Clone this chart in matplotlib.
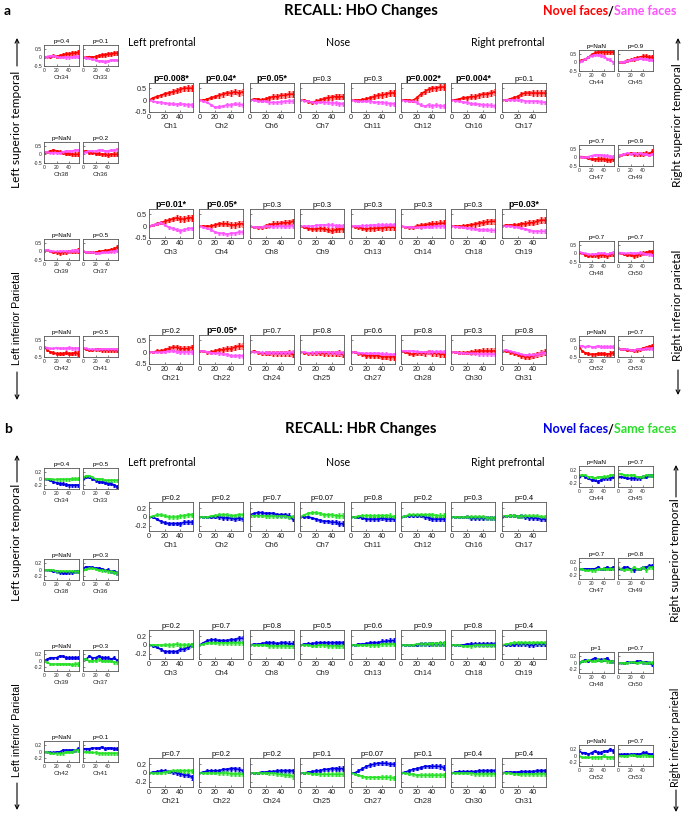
import matplotlib.pyplot as plt

plt.rcParams['axes.unicode_minus'] = False
plt.rcParams['font.family'] = ['Liberation Sans', 'DejaVu Sans']

W, H = 685, 815

# time axis (s)
t = [0, 5, 10, 15, 20, 25, 30, 35, 40, 45, 50, 55]

# channel names (same layout in both panels)
center_ch = [['Ch1', 'Ch2', 'Ch6', 'Ch7', 'Ch11', 'Ch12', 'Ch16', 'Ch17'],
             ['Ch3', 'Ch4', 'Ch8', 'Ch9', 'Ch13', 'Ch14', 'Ch18', 'Ch19'],
             ['Ch21', 'Ch22', 'Ch24', 'Ch25', 'Ch27', 'Ch28', 'Ch30', 'Ch31']]
left_ch = [['Ch34', 'Ch33'], ['Ch38', 'Ch36'], ['Ch39', 'Ch37'], ['Ch42', 'Ch41']]
right_ch = [['Ch44', 'Ch45'], ['Ch47', 'Ch49'], ['Ch48', 'Ch50'], ['Ch52', 'Ch53']]

# ---------------- HbO ----------------
hbo_center_p = [['p=0.008*', 'p=0.04*', 'p=0.05*', 'p=0.3', 'p=0.3', 'p=0.002*', 'p=0.004*', 'p=0.1'],
                ['p=0.01*', 'p=0.05*', 'p=0.3', 'p=0.3', 'p=0.3', 'p=0.3', 'p=0.3', 'p=0.03*'],
                ['p=0.2', 'p=0.05*', 'p=0.7', 'p=0.8', 'p=0.6', 'p=0.8', 'p=0.3', 'p=0.8']]
hbo_left_p = [['p=0.4', 'p=0.1'], ['p=NaN', 'p=0.2'], ['p=NaN', 'p=0.5'], ['p=NaN', 'p=0.5']]
hbo_right_p = [['p=NaN', 'p=0.9'], ['p=0.7', 'p=0.9'], ['p=0.7', 'p=0.7'], ['p=NaN', 'p=0.7']]

hbo_center_novel = [
    [[0, 0.1, 0.15, 0.2, 0.27, 0.3, 0.35, 0.4, 0.45, 0.5, 0.5, 0.5],
     [0, 0.0, 0.05, 0.1, 0.15, 0.2, 0.25, 0.3, 0.3, 0.35, 0.3, 0.35],
     [0, 0.05, 0.05, 0.0, 0.05, 0.1, 0.15, 0.15, 0.2, 0.2, 0.25, 0.25],
     [0, 0.0, -0.05, -0.1, -0.05, 0.0, 0.05, 0.1, 0.12, 0.15, 0.15, 0.15],
     [0, 0.0, 0.0, 0.02, 0.05, 0.1, 0.15, 0.2, 0.22, 0.25, 0.3, 0.3],
     [0, 0.02, 0.0, -0.02, 0.1, 0.25, 0.35, 0.45, 0.5, 0.5, 0.55, 0.55],
     [0, 0.02, 0.05, 0.1, 0.1, 0.15, 0.15, 0.2, 0.25, 0.25, 0.3, 0.35],
     [0, 0.0, 0.05, 0.1, 0.15, 0.25, 0.3, 0.3, 0.3, 0.3, 0.3, 0.3]],
    [[0, 0.05, 0.1, 0.15, 0.2, 0.25, 0.3, 0.35, 0.3, 0.3, 0.35, 0.35],
     [0, 0.0, 0.0, 0.0, 0.05, 0.1, 0.1, 0.1, 0.05, 0.05, 0.1, 0.1],
     [0, -0.05, -0.05, -0.05, 0.0, 0.05, 0.1, 0.1, 0.12, 0.15, 0.15, 0.2],
     [0, -0.05, -0.1, -0.12, -0.12, -0.1, -0.12, -0.15, -0.2, -0.15, -0.12, -0.12],
     [0, -0.02, -0.05, -0.1, -0.12, -0.1, -0.1, -0.08, -0.08, -0.05, -0.05, -0.05],
     [0, -0.03, -0.05, -0.05, 0.0, 0.03, 0.05, 0.08, 0.1, 0.1, 0.12, 0.12],
     [0, 0.0, 0.0, 0.0, 0.03, 0.05, 0.08, 0.12, 0.15, 0.18, 0.2, 0.2],
     [0, 0.05, 0.05, 0.05, 0.05, 0.1, 0.1, 0.15, 0.15, 0.2, 0.25, 0.25]],
    [[0, 0.0, 0.05, 0.05, 0.1, 0.15, 0.2, 0.2, 0.15, 0.15, 0.15, 0.2],
     [0.05, 0.05, 0.0, 0.0, 0.05, 0.1, 0.1, 0.15, 0.15, 0.2, 0.25, 0.25],
     [0, 0.05, 0.0, -0.05, -0.05, -0.05, -0.05, -0.05, -0.05, -0.05, -0.05, -0.1],
     [0, -0.02, -0.05, -0.05, -0.05, -0.03, -0.05, -0.05, -0.05, -0.05, -0.05, -0.1],
     [0, 0.0, -0.05, -0.1, -0.15, -0.15, -0.15, -0.15, -0.2, -0.2, -0.2, -0.2],
     [0.05, 0.0, -0.05, -0.1, -0.05, -0.05, -0.05, 0.0, -0.05, -0.05, -0.08, -0.1],
     [0, 0.0, -0.02, -0.02, -0.02, 0.0, 0.02, 0.05, 0.05, 0.05, 0.05, 0.05],
     [0.05, 0.05, 0.0, -0.05, -0.1, -0.15, -0.2, -0.2, -0.15, -0.1, -0.05, 0.0]]]
hbo_center_same = [
    [[0, -0.05, -0.08, -0.1, -0.12, -0.15, -0.15, -0.18, -0.15, -0.18, -0.2, -0.2],
     [0, -0.05, -0.1, -0.2, -0.3, -0.28, -0.25, -0.2, -0.2, -0.15, -0.18, -0.2],
     [0, 0.0, -0.05, -0.05, -0.05, -0.1, -0.1, -0.1, -0.08, -0.05, -0.05, -0.05],
     [0, -0.02, -0.05, -0.08, -0.1, -0.08, -0.1, -0.1, -0.12, -0.12, -0.15, -0.15],
     [0, -0.02, -0.05, -0.05, -0.05, -0.05, -0.08, -0.1, -0.1, -0.12, -0.15, -0.15],
     [0, -0.02, -0.05, -0.05, -0.1, -0.2, -0.25, -0.2, -0.25, -0.2, -0.25, -0.25],
     [0, -0.02, -0.05, -0.08, -0.1, -0.15, -0.15, -0.18, -0.2, -0.2, -0.22, -0.25],
     [0, 0.0, 0.02, 0.0, 0.0, 0.0, -0.05, -0.05, -0.05, -0.05, -0.08, -0.1]],
    [[0, 0.05, 0.1, 0.15, 0.05, -0.05, -0.1, -0.15, -0.2, -0.15, -0.1, -0.1],
     [0, -0.05, -0.1, -0.15, -0.25, -0.3, -0.3, -0.35, -0.3, -0.3, -0.25, -0.25],
     [0, -0.03, -0.05, -0.03, 0.0, 0.0, -0.02, 0.0, 0.0, -0.02, 0.0, 0.02],
     [0, 0.0, 0.0, 0.0, 0.03, 0.05, 0.05, 0.05, 0.05, 0.02, 0.02, 0.0],
     [0, 0.0, 0.0, 0.02, 0.02, 0.03, 0.05, 0.05, 0.05, 0.05, 0.05, 0.05],
     [0, -0.02, -0.03, -0.05, -0.05, -0.05, -0.03, -0.02, -0.02, 0.0, 0.0, 0.0],
     [0, -0.02, -0.03, -0.05, -0.08, -0.1, -0.12, -0.15, -0.15, -0.15, -0.18, -0.18],
     [0, 0.0, 0.0, -0.02, -0.05, -0.08, -0.12, -0.18, -0.22, -0.22, -0.22, -0.22]],
    [[0, 0.0, 0.0, 0.0, 0.02, 0.05, 0.05, 0.02, 0.0, 0.0, 0.0, 0.0],
     [0.05, 0.05, 0.02, -0.02, -0.05, -0.05, -0.08, -0.1, -0.15, -0.15, -0.15, -0.15],
     [0, 0.02, 0.0, -0.02, -0.02, -0.03, -0.03, -0.02, -0.02, -0.02, -0.02, 0.0],
     [0, 0.0, -0.02, -0.02, -0.02, 0.0, 0.0, -0.02, -0.02, -0.03, -0.03, -0.03],
     [0, 0.0, -0.02, -0.05, -0.05, -0.05, -0.05, -0.05, -0.08, -0.08, -0.1, -0.1],
     [0.05, 0.05, 0.05, 0.05, 0.02, 0.0, 0.0, 0.0, 0.0, 0.02, 0.02, 0.0],
     [0, 0.0, -0.02, -0.03, -0.05, -0.05, -0.05, -0.08, -0.08, -0.08, -0.08, -0.1],
     [0.05, 0.1, 0.05, 0.0, -0.05, -0.1, -0.12, -0.12, -0.12, -0.1, -0.05, -0.02]]]

hbo_left_novel = [
    [[0, 0.05, 0.05, 0.1, 0.05, 0.1, 0.15, 0.2, 0.2, 0.25, 0.25, 0.3],
     [0, 0.0, 0.05, 0.0, 0.05, 0.1, 0.15, 0.15, 0.2, 0.2, 0.25, 0.25]],
    [[0.1, 0.15, 0.2, 0.25, 0.2, 0.15, 0.1, 0.05, 0.05, 0.0, 0.0, 0.0],
     [0.2, 0.2, 0.1, 0.1, 0.05, 0.05, 0.0, 0.0, -0.05, 0.0, 0.0, 0.0]],
    [[0, 0.1, 0.0, -0.05, -0.05, -0.1, -0.05, -0.05, 0.0, 0.0, 0.0, 0.05],
     [0, -0.05, -0.05, -0.05, -0.05, 0.0, 0.0, 0.05, 0.05, 0.1, 0.15, 0.25]],
    [[0.1, -0.1, -0.2, -0.25, -0.3, -0.3, -0.3, -0.25, -0.3, -0.3, -0.25, -0.3],
     [0, -0.05, -0.1, -0.1, -0.05, -0.05, -0.1, -0.1, -0.1, -0.1, -0.1, -0.1]]]
hbo_left_same = [
    [[0, 0.05, 0.1, 0.1, 0.05, 0.0, 0.0, 0.0, 0.0, 0.02, 0.05, 0.05],
     [0, -0.05, -0.05, -0.1, -0.15, -0.2, -0.2, -0.25, -0.2, -0.15, -0.15, -0.15]],
    [[0.15, 0.15, 0.1, 0.1, 0.1, 0.1, 0.15, 0.2, 0.2, 0.2, 0.25, 0.25],
     [0.1, 0.15, 0.2, 0.2, 0.2, 0.25, 0.25, 0.2, 0.2, 0.25, 0.25, 0.3]],
    [[0.05, 0.1, 0.05, 0.0, 0.0, 0.0, 0.0, 0.0, 0.0, 0.05, 0.05, 0.05],
     [0, -0.02, -0.05, -0.05, -0.1, -0.1, -0.05, -0.05, -0.05, 0.0, 0.0, 0.05]],
    [[0.1, 0.05, 0.0, 0.0, 0.05, 0.0, 0.0, 0.0, 0.05, 0.0, 0.0, 0.0],
     [0, 0.0, -0.05, -0.05, -0.05, -0.05, -0.05, -0.05, -0.05, -0.05, -0.05, -0.05]]]

hbo_right_novel = [
    [[0.1, 0.15, 0.2, 0.3, 0.45, 0.55, 0.6, 0.6, 0.6, 0.6, 0.6, 0.6],
     [0, 0.0, 0.05, 0.1, 0.15, 0.2, 0.25, 0.3, 0.35, 0.35, 0.3, 0.3]],
    [[0.05, 0.05, 0.0, -0.05, -0.1, -0.1, -0.1, -0.1, -0.1, -0.15, -0.15, -0.1],
     [0.1, 0.15, 0.2, 0.2, 0.25, 0.2, 0.2, 0.2, 0.2, 0.25, 0.2, 0.35]],
    [[0.05, 0.0, -0.1, -0.15, -0.15, -0.1, -0.15, -0.1, -0.1, -0.15, -0.05, -0.05],
     [0.05, 0.0, -0.05, -0.1, -0.1, -0.15, -0.1, -0.05, 0.0, 0.05, 0.1, 0.1]],
    [[0.1, -0.15, -0.25, -0.3, -0.35, -0.35, -0.3, -0.3, -0.3, -0.35, -0.3, -0.25],
     [0, -0.05, -0.05, -0.1, -0.1, -0.1, -0.1, -0.05, 0.0, 0.05, 0.1, 0.15]]]
hbo_right_same = [
    [[0.05, 0.1, 0.2, 0.3, 0.4, 0.45, 0.45, 0.4, 0.35, 0.2, 0.15, 0.0],
     [0, 0.0, 0.05, 0.1, 0.15, 0.2, 0.2, 0.25, 0.2, 0.2, 0.15, 0.15]],
    [[0.05, 0.0, 0.0, 0.05, 0.1, 0.15, 0.15, 0.15, 0.1, 0.1, 0.05, 0.05],
     [0.1, 0.15, 0.2, 0.25, 0.2, 0.25, 0.2, 0.25, 0.2, 0.2, 0.15, 0.2]],
    [[0.1, 0.05, 0.0, -0.05, -0.05, -0.05, 0.0, 0.0, 0.0, -0.05, 0.0, 0.05],
     [0.05, 0.05, 0.0, 0.0, 0.05, 0.0, 0.0, 0.05, 0.0, -0.05, -0.05, -0.1]],
    [[0.15, 0.15, 0.1, 0.15, 0.1, 0.1, 0.15, 0.1, 0.1, 0.1, 0.1, 0.1],
     [0, -0.05, -0.05, -0.05, -0.1, -0.1, -0.05, -0.05, -0.05, 0.0, 0.0, 0.0]]]

hbo_err_novel = [0.01, 0.04, 0.06, 0.07, 0.08, 0.09, 0.1, 0.1, 0.11, 0.11, 0.12, 0.12]
hbo_err_same = [0.01, 0.03, 0.04, 0.05, 0.05, 0.06, 0.06, 0.07, 0.07, 0.07, 0.08, 0.08]

# ---------------- HbR ----------------
hbr_center_p = [['p=0.2', 'p=0.2', 'p=0.7', 'p=0.07', 'p=0.8', 'p=0.2', 'p=0.3', 'p=0.4'],
                ['p=0.2', 'p=0.7', 'p=0.8', 'p=0.5', 'p=0.6', 'p=0.9', 'p=0.8', 'p=0.4'],
                ['p=0.7', 'p=0.2', 'p=0.2', 'p=0.1', 'p=0.07', 'p=0.1', 'p=0.4', 'p=0.4']]
hbr_left_p = [['p=0.4', 'p=0.5'], ['p=NaN', 'p=0.3'], ['p=NaN', 'p=0.3'], ['p=NaN', 'p=0.1']]
hbr_right_p = [['p=NaN', 'p=0.7'], ['p=0.7', 'p=0.8'], ['p=1', 'p=0.7'], ['p=NaN', 'p=0.7']]

hbr_center_novel = [
    [[0, 0.0, -0.05, -0.1, -0.13, -0.15, -0.15, -0.15, -0.15, -0.12, -0.12, -0.12],
     [0, 0.0, 0.0, 0.0, 0.0, 0.0, -0.02, -0.02, -0.03, -0.05, -0.03, -0.05],
     [0.05, 0.08, 0.1, 0.1, 0.08, 0.08, 0.08, 0.05, 0.05, 0.05, 0.03, -0.05],
     [0, 0.0, 0.0, -0.02, -0.05, -0.08, -0.1, -0.1, -0.12, -0.12, -0.15, -0.15],
     [0, 0.0, 0.0, -0.02, -0.05, -0.05, -0.05, -0.05, -0.03, -0.05, -0.05, -0.05],
     [0, 0.02, 0.03, 0.03, 0.03, 0.03, 0.0, -0.02, -0.05, -0.05, -0.05, -0.05],
     [0, 0.0, 0.0, 0.0, 0.0, -0.02, -0.02, -0.02, -0.02, -0.02, -0.02, -0.03],
     [0, 0.02, 0.03, 0.03, 0.02, 0.02, 0.0, -0.02, -0.02, -0.03, -0.05, -0.05]],
    [[0, -0.02, -0.05, -0.1, -0.15, -0.15, -0.15, -0.15, -0.1, -0.1, -0.05, 0.0],
     [0, 0.05, 0.1, 0.12, 0.12, 0.1, 0.1, 0.1, 0.12, 0.12, 0.15, 0.15],
     [0, 0.02, 0.02, 0.03, 0.05, 0.05, 0.05, 0.03, 0.05, 0.05, 0.03, 0.03],
     [0, 0.02, 0.03, 0.03, 0.05, 0.05, 0.05, 0.05, 0.05, 0.05, 0.05, 0.05],
     [0, 0.0, 0.02, 0.02, 0.03, 0.05, 0.05, 0.05, 0.08, 0.08, 0.1, 0.1],
     [0, 0.0, 0.0, 0.0, 0.0, 0.02, 0.02, 0.02, 0.02, 0.02, 0.02, 0.02],
     [0, 0.0, 0.0, 0.0, 0.02, 0.02, 0.02, 0.02, 0.02, 0.02, 0.02, 0.02],
     [0, 0.0, 0.0, 0.0, 0.02, 0.02, 0.02, 0.0, 0.0, 0.02, 0.02, 0.02]],
    [[0, 0.02, 0.03, 0.05, 0.05, 0.03, 0.02, 0.0, -0.02, -0.05, -0.05, -0.1],
     [0, 0.02, 0.05, 0.05, 0.05, 0.05, 0.08, 0.08, 0.1, 0.1, 0.08, 0.05],
     [0, 0.0, 0.0, 0.02, 0.02, 0.03, 0.03, 0.05, 0.05, 0.05, 0.05, 0.05],
     [0, 0.0, 0.02, 0.03, 0.05, 0.05, 0.08, 0.08, 0.1, 0.1, 0.1, 0.1],
     [0, 0.0, 0.05, 0.1, 0.15, 0.18, 0.2, 0.22, 0.22, 0.22, 0.2, 0.2],
     [0, 0.02, 0.05, 0.08, 0.1, 0.12, 0.15, 0.15, 0.15, 0.15, 0.15, 0.12],
     [0, 0.02, 0.03, 0.03, 0.03, 0.03, 0.03, 0.05, 0.05, 0.05, 0.05, 0.05],
     [0, 0.02, 0.02, 0.02, 0.02, 0.03, 0.03, 0.03, 0.03, 0.05, 0.05, 0.05]]]
hbr_center_same = [
    [[0, 0.02, 0.05, 0.05, 0.03, 0.0, 0.0, 0.0, 0.02, 0.03, 0.05, 0.05],
     [0, 0.0, 0.0, 0.02, 0.03, 0.05, 0.05, 0.05, 0.03, 0.03, 0.05, 0.05],
     [0.03, 0.03, 0.03, 0.03, 0.02, 0.02, 0.02, 0.02, 0.02, 0.02, 0.0, 0.0],
     [0, 0.05, 0.08, 0.1, 0.1, 0.08, 0.05, 0.05, 0.05, 0.03, 0.03, 0.03],
     [0, 0.0, 0.02, 0.03, 0.03, 0.03, 0.02, 0.03, 0.03, 0.03, 0.03, 0.0],
     [0, 0.02, 0.05, 0.05, 0.05, 0.05, 0.05, 0.05, 0.05, 0.03, 0.03, 0.03],
     [0, 0.0, 0.0, 0.0, 0.0, 0.0, 0.0, 0.0, 0.0, -0.02, -0.02, -0.02],
     [0.02, 0.03, 0.03, 0.03, 0.02, 0.02, 0.02, 0.02, 0.02, 0.02, 0.0, 0.0]],
    [[0, 0.0, 0.0, 0.0, 0.0, 0.0, 0.0, 0.02, 0.0, 0.0, 0.0, 0.0],
     [0, 0.02, 0.05, 0.05, 0.05, 0.05, 0.05, 0.05, 0.05, 0.05, 0.05, 0.05],
     [0, 0.0, 0.0, 0.0, 0.0, -0.02, -0.02, -0.02, -0.02, -0.02, -0.03, -0.03],
     [0, 0.0, 0.0, -0.02, -0.02, 0.0, 0.0, -0.02, -0.02, -0.02, -0.03, -0.02],
     [0, 0.0, 0.0, 0.0, 0.0, 0.0, 0.0, 0.0, 0.02, 0.02, 0.02, 0.02],
     [0, 0.0, 0.0, 0.0, 0.02, 0.02, 0.02, 0.03, 0.03, 0.03, 0.03, 0.03],
     [0, 0.0, 0.0, -0.02, -0.02, -0.02, 0.0, 0.0, 0.0, 0.0, 0.0, 0.0],
     [0, 0.02, 0.03, 0.05, 0.05, 0.05, 0.05, 0.05, 0.05, 0.05, 0.05, 0.05]],
    [[0, 0.0, 0.0, 0.0, 0.02, 0.03, 0.05, 0.05, 0.05, 0.05, 0.05, 0.05],
     [0, 0.0, 0.0, 0.0, 0.0, 0.0, 0.0, 0.0, -0.02, -0.02, -0.02, -0.03],
     [0, 0.0, 0.0, 0.0, 0.0, 0.0, 0.0, -0.02, -0.03, -0.05, -0.05, -0.08],
     [0, 0.0, 0.0, -0.02, -0.02, -0.03, -0.03, -0.03, -0.03, -0.03, -0.03, -0.03],
     [0, -0.02, -0.05, -0.08, -0.1, -0.1, -0.1, -0.1, -0.1, -0.1, -0.1, -0.12],
     [0, 0.0, -0.02, -0.03, -0.05, -0.05, -0.05, -0.05, -0.05, -0.05, -0.05, -0.05],
     [0, 0.0, 0.0, 0.0, 0.0, 0.0, -0.02, -0.02, -0.02, -0.02, -0.02, -0.02],
     [0, 0.0, 0.0, -0.02, -0.02, -0.02, -0.02, -0.02, -0.02, -0.02, -0.02, -0.02]]]

hbr_left_novel = [
    [[0, -0.02, -0.05, -0.1, -0.12, -0.15, -0.15, -0.18, -0.2, -0.2, -0.2, -0.2],
     [0, 0.05, 0.05, 0.0, -0.05, -0.1, -0.1, -0.12, -0.15, -0.15, -0.2, -0.25]],
    [[0, 0.0, -0.02, -0.05, -0.05, -0.08, -0.1, -0.1, -0.08, -0.08, -0.05, -0.05],
     [0.05, 0.1, 0.08, 0.08, 0.05, 0.05, 0.03, 0.0, 0.0, -0.05, -0.05, -0.1]],
    [[0.0, 0.05, 0.1, 0.1, 0.1, 0.15, 0.15, 0.1, 0.1, 0.1, 0.1, 0.1],
     [0.05, 0.05, 0.15, 0.1, 0.1, 0.15, 0.1, 0.1, 0.1, 0.05, 0.1, 0.0]],
    [[0.0, 0.0, -0.02, -0.02, 0.0, 0.0, 0.05, 0.05, 0.05, 0.05, 0.05, 0.1],
     [0.1, 0.1, 0.1, 0.12, 0.12, 0.12, 0.15, 0.1, 0.12, 0.12, 0.1, 0.1]]]
hbr_left_same = [
    [[0, 0.0, 0.0, -0.02, -0.02, -0.02, -0.02, -0.02, -0.02, 0.0, 0.0, 0.0],
     [0.05, 0.1, 0.1, 0.05, 0.0, 0.0, -0.02, -0.05, -0.05, -0.05, -0.05, -0.05]],
    [[0, 0.0, 0.0, -0.02, -0.05, -0.05, -0.05, -0.05, -0.05, -0.05, -0.05, -0.05],
     [0.0, 0.02, 0.05, 0.05, 0.03, 0.0, -0.02, -0.02, -0.05, -0.05, -0.08, -0.1]],
    [[0.0, -0.05, -0.1, -0.1, -0.1, -0.1, -0.1, -0.1, -0.1, -0.12, -0.1, -0.1],
     [0.05, 0.05, 0.0, 0.0, 0.0, 0.05, 0.0, 0.0, 0.0, 0.0, -0.05, -0.05]],
    [[0.0, 0.0, -0.05, -0.05, -0.05, -0.05, -0.05, 0.0, 0.0, 0.0, 0.05, 0.05],
     [0.0, 0.0, 0.0, -0.02, -0.02, -0.05, -0.05, -0.05, -0.05, -0.05, -0.05, -0.05]]]

hbr_right_novel = [
    [[0, 0.05, 0.0, -0.05, -0.1, -0.1, -0.15, -0.1, -0.05, -0.05, -0.05, 0.0],
     [0.0, 0.0, -0.02, -0.05, -0.05, -0.05, -0.05, -0.05, 0.0, 0.0, 0.05, 0.05]],
    [[0.0, 0.0, 0.0, 0.0, 0.0, 0.0, 0.05, 0.0, 0.0, 0.05, 0.0, 0.05],
     [0.0, 0.0, 0.05, 0.05, 0.0, -0.05, 0.0, 0.0, 0.05, 0.05, 0.1, 0.1]],
    [[0.0, 0.05, 0.1, 0.05, 0.1, 0.15, 0.1, 0.1, 0.1, 0.15, 0.05, 0.05],
     [0.0, 0.0, 0.0, 0.02, 0.02, 0.02, 0.05, 0.05, 0.02, 0.02, 0.0, -0.05]],
    [[0.15, 0.1, 0.1, 0.05, 0.1, 0.15, 0.1, 0.1, 0.15, 0.15, 0.2, 0.15],
     [0.05, 0.05, 0.05, 0.05, 0.05, 0.05, 0.05, 0.05, 0.1, 0.1, 0.05, 0.05]]]
hbr_right_same = [
    [[0.05, 0.05, 0.05, 0.0, 0.0, -0.05, 0.0, 0.0, 0.0, 0.0, 0.05, 0.05],
     [0.1, 0.1, 0.05, 0.05, 0.05, 0.05, 0.0, 0.0, 0.0, 0.05, 0.05, 0.05]],
    [[0.0, 0.0, -0.05, -0.05, -0.05, -0.05, 0.0, 0.0, 0.0, 0.0, 0.0, 0.0],
     [0.05, 0.0, -0.05, 0.0, -0.05, 0.05, 0.0, 0.0, 0.05, -0.05, 0.05, 0.05]],
    [[0.0, 0.05, 0.05, 0.1, 0.05, 0.05, 0.1, 0.05, 0.1, 0.05, 0.05, 0.05],
     [0.0, 0.0, 0.0, 0.0, 0.02, 0.02, 0.0, 0.02, 0.02, 0.0, 0.0, 0.0]],
    [[0.0, -0.05, -0.05, -0.05, -0.05, -0.05, -0.05, -0.05, 0.0, -0.05, -0.05, -0.05],
     [0.0, 0.0, 0.0, 0.0, 0.02, 0.02, 0.0, 0.0, 0.02, 0.02, 0.0, 0.0]]]

hbr_err_novel = [0.005, 0.02, 0.03, 0.03, 0.035, 0.04, 0.04, 0.04, 0.045, 0.045, 0.05, 0.05]
hbr_err_same = [0.005, 0.02, 0.03, 0.03, 0.035, 0.04, 0.04, 0.04, 0.045, 0.045, 0.05, 0.05]


fig = plt.figure(figsize=(W / 100, H / 100), dpi=100)
ov = fig.add_axes([0, 0, 1, 1])
ov.axis('off')
ov.set_xlim(0, W)
ov.set_ylim(H, 0)

HEAD = ['Lato', 'DejaVu Sans']
TICK_C = '#262626'


def px_axes(x, y, w, h):
    return fig.add_axes([x / W, 1 - (y + h) / H, w / W, h / H])


def draw_series(ax, y, e, c):
    lo = [a - b for a, b in zip(y, e)]
    hi = [a + b for a, b in zip(y, e)]
    ax.fill_between(t, lo, hi, color=c, alpha=0.4, lw=0)
    ax.errorbar(t, y, yerr=e, color=c, lw=1.0, elinewidth=0.8,
                capsize=0.8, capthick=0.6, marker='.', ms=1.8)


def draw_channel(x, y, w, h, novel, same, err_n, err_s, cols, ylim, yticks, ch, p, small, first):
    ax = px_axes(x, y, w, h)
    draw_series(ax, novel, err_n, cols[0])
    draw_series(ax, same, err_s, cols[1])
    ax.set_xlim(0, 56)
    ax.set_ylim(ylim)
    ax.set_xticks([0, 20, 40])
    ax.set_yticks(yticks)
    ax.set_yticklabels([f'{v:g}' for v in yticks] if first else [])
    fs_tick = 3.6 if small else 5.2
    ax.tick_params(direction='in', length=1.5, width=0.4, pad=1.5,
                   labelsize=fs_tick, colors=TICK_C)
    for s in ax.spines.values():
        s.set_color('#555555')
        s.set_linewidth(0.6)
    bold = p.endswith('*')
    ax.set_title(p, fontsize=(4.6 if small else (6.2 if bold else 5.4)),
                 fontweight='bold' if bold else 'normal', pad=1.5, color='black')
    ax.set_xlabel(ch, fontsize=4.6 if small else 5.6, labelpad=1.5, color=TICK_C)
    return ax


def draw_panel(c_y, l_y, r_y, cn, cs, ln, ls, rn, rs, cp, lp, rp, en, es, cols, ylim, yticks):
    for r in range(3):
        for i in range(8):
            draw_channel(149 + 50.4 * i, c_y[r], 44, 29, cn[r][i], cs[r][i], en, es,
                         cols, ylim, yticks, center_ch[r][i], cp[r][i], False, i == 0)
    for r in range(4):
        for i in range(2):
            draw_channel([44, 83][i], l_y[r], 35, 21, ln[r][i], ls[r][i], en, es,
                         cols, ylim, yticks, left_ch[r][i], lp[r][i], True, i == 0)
            draw_channel([579, 618][i], r_y[r], 35, 21, rn[r][i], rs[r][i], en, es,
                         cols, ylim, yticks, right_ch[r][i], rp[r][i], True, i == 0)


def legend(y, c1, c2):
    t1 = ov.text(543, y, 'Novel faces', color=c1, fontsize=9, fontweight='bold',
                 family=HEAD, ha='left', va='center')
    t2 = ov.annotate('/', xy=(1, 0), xycoords=t1, color='black', fontsize=9,
                     fontweight='bold', family=HEAD, ha='left', va='bottom')
    ov.annotate('Same faces', xy=(1, 0), xycoords=t2, color=c2, fontsize=9,
                fontweight='bold', family=HEAD, ha='left', va='bottom')


def side_label(x, yc, s, size, fam):
    ov.text(x, yc, s, rotation=90, fontsize=size, family=fam, ha='center', va='center')


def arrow(x, y0, y1):
    ov.annotate('', xy=(x, y1), xytext=(x, y0), xycoords='data',
                arrowprops=dict(arrowstyle='->', lw=0.8, color='black',
                                shrinkA=0, shrinkB=0, mutation_scale=7))


RED, MAG = '#ff0000', '#ff55ff'
BLUE, GREEN = '#0000e6', '#28e028'

# ---- panel a
draw_panel([83, 209, 335], [45, 142, 239, 336], [50, 145, 241, 336],
           hbo_center_novel, hbo_center_same, hbo_left_novel, hbo_left_same,
           hbo_right_novel, hbo_right_same, hbo_center_p, hbo_left_p, hbo_right_p,
           hbo_err_novel, hbo_err_same, (RED, MAG), (-0.5, 0.72), [-0.5, 0, 0.5])

# ---- panel b
draw_panel([502, 630, 758], [468, 559, 650, 741], [466, 558, 652, 745],
           hbr_center_novel, hbr_center_same, hbr_left_novel, hbr_left_same,
           hbr_right_novel, hbr_right_same, hbr_center_p, hbr_left_p, hbr_right_p,
           hbr_err_novel, hbr_err_same, (BLUE, GREEN), (-0.32, 0.34), [-0.2, 0, 0.2])

# headings
for y, title, cols, lab in [(11, 'RECALL: HbO Changes', (RED, MAG), 'a'),
                            (429, 'RECALL: HbR Changes', (BLUE, GREEN), 'b')]:
    ov.text(361, y, title, fontsize=10.7, fontweight='bold', family=HEAD,
            ha='center', va='center')
    ov.text(4, y, lab, fontsize=10, fontweight='bold', family=HEAD, ha='left', va='center')
    legend(y, *cols)

for y in [42, 463]:
    ov.text(128, y, 'Left prefrontal', fontsize=7.6, family=HEAD, ha='left', va='center')
    ov.text(338, y, 'Nose', fontsize=7.6, family=HEAD, ha='center', va='center')
    ov.text(545, y, 'Right prefrontal', fontsize=7.6, family=HEAD, ha='right', va='center')

# side labels, panel a
side_label(17, 129, 'Left superior temporal', 8.6, HEAD)
arrow(17, 66, 38)
side_label(17, 318, 'Left inferior Parietal', 7.7, ['Liberation Sans'])
arrow(17, 372, 400)
side_label(678, 125, 'Right superior temporal', 8.6, HEAD)
arrow(678, 60, 38)
side_label(678, 305, 'Right inferior parietal', 8.6, HEAD)
arrow(678, 370, 395)

# side labels, panel b
side_label(17, 542, 'Left superior temporal', 8.6, HEAD)
arrow(17, 482, 455)
side_label(17, 730, 'Left inferior Parietal', 7.7, ['Liberation Sans'])
arrow(17, 783, 810)
side_label(676, 560, 'Right superior temporal', 8.6, HEAD)
arrow(676, 497, 465)
side_label(676, 737, 'Right inferior parietal', 7.7, HEAD)
arrow(676, 790, 812)

fig.savefig('out.png', dpi=100)
